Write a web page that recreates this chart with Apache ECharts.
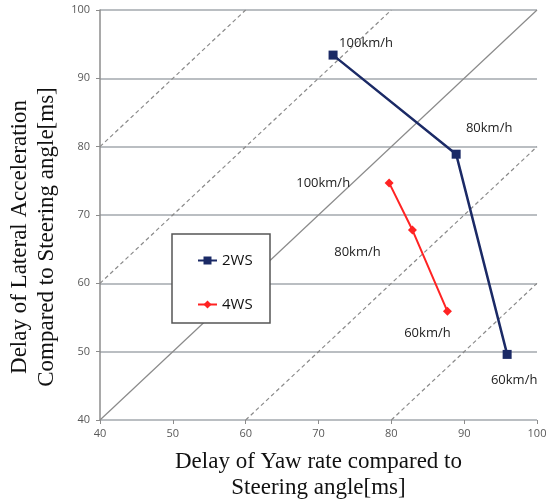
<!DOCTYPE html>
<html>
<head>
<meta charset="utf-8">
<script src="https://cdn.jsdelivr.net/npm/echarts@6/dist/echarts.min.js"></script>
<style>
  html, body { margin: 0; padding: 0; background: #fff; }
  #chart { width: 552px; height: 503px; }
</style>
</head>
<body>
<div id="chart"></div>
<script>
  // data
  var ws2Yaw = [72, 88.9, 95.9];
  var ws2Lat = [93.4, 78.9, 49.6];
  var ws4Yaw = [79.7, 82.9, 87.7];
  var ws4Lat = [74.7, 67.8, 55.9];
  var speedLabels = ['100km/h', '80km/h', '60km/h'];
  var axisTicks = [40, 50, 60, 70, 80, 90, 100];
  // guide lines y = x + offset
  var guideOffsets = [40, 20, 0, -20, -40];

  var lo = axisTicks[0], hi = axisTicks[axisTicks.length - 1];

  // label offsets next to each point
  var ws2Offsets = [[33, -12], [33, -26], [7, 26]];
  var ws4Offsets = [[-66, 0], [-55, 22], [-20, 22]];

  function pts(xs, ys, offs) {
    var out = [];
    for (var i = 0; i < xs.length; i++) {
      out.push({
        value: [xs[i], ys[i]],
        label: { show: true, formatter: speedLabels[i], offset: offs[i], position: 'inside' }
      });
    }
    return out;
  }

  var guideSeries = guideOffsets.map(function (d) {
    var x1 = Math.max(lo, lo - d), x2 = Math.min(hi, hi - d);
    return {
      type: 'line',
      silent: true,
      symbol: 'none',
      data: [[x1, x1 + d], [x2, x2 + d]],
      lineStyle: {
        color: '#8a8a8a',
        width: 1.2,
        type: d === 0 ? 'solid' : [4, 3]
      },
      z: 1
    };
  });

  var chart = echarts.init(document.getElementById('chart'));
  var labelStyle = { color: '#222', fontSize: 13, fontFamily: 'Open Sans' };

  chart.setOption({
    animation: false,
    backgroundColor: '#fff',
    grid: { left: 100, right: 15, top: 10, bottom: 83, outerBoundsMode: 'none', containLabel: false },
    xAxis: {
      type: 'value', min: lo, max: hi, interval: 10,
      axisLine: { show: false },
      axisTick: { show: true, length: 4, lineStyle: { color: '#8c8c8c' } },
      splitLine: { show: false },
      axisLabel: { color: '#595959', fontSize: 11, fontFamily: 'Open Sans', margin: 8 },
      name: 'Delay of Yaw rate compared to\nSteering angle[ms]',
      nameLocation: 'middle', nameGap: 29,
      nameTextStyle: { color: '#111', fontSize: 23, fontFamily: 'Liberation Serif', lineHeight: 26 }
    },
    yAxis: {
      type: 'value', min: lo, max: hi, interval: 10,
      axisLine: { show: true, lineStyle: { color: '#8c8c8c', width: 1.5 } },
      axisTick: { show: true, length: 4, lineStyle: { color: '#8c8c8c' } },
      splitLine: { show: true, lineStyle: { color: '#a3a9ae', width: 1.5 } },
      axisLabel: { color: '#595959', fontSize: 11, fontFamily: 'Open Sans', margin: 10 },
      name: 'Delay of Lateral Acceleration\nCompared to Steering angle[ms]',
      nameLocation: 'middle', nameGap: 32,
      nameTextStyle: {
        color: '#111', fontSize: 23, fontFamily: 'Liberation Serif', lineHeight: 27,
        padding: [0, 44, 0, 0]
      }
    },
    graphic: [{
      type: 'rect',
      shape: { x: 172, y: 234, width: 98, height: 89 },
      style: { fill: '#fff', stroke: '#555', lineWidth: 1.5 },
      z: 10
    }],
    legend: {
      orient: 'vertical',
      left: 192, top: 248,
      itemGap: 29, itemWidth: 19, itemHeight: 10,
      textStyle: { color: '#111', fontSize: 15, fontFamily: 'Open Sans' },
      data: ['2WS', '4WS'],
      z: 20
    },
    series: guideSeries.concat([{
      name: '2WS',
      type: 'line',
      data: pts(ws2Yaw, ws2Lat, ws2Offsets),
      symbol: 'rect', symbolSize: 9,
      itemStyle: { color: '#1b2a66' },
      lineStyle: { color: '#1b2a66', width: 2.5 },
      label: labelStyle,
      z: 5
    }, {
      name: '4WS',
      type: 'line',
      data: pts(ws4Yaw, ws4Lat, ws4Offsets),
      symbol: 'diamond', symbolSize: 9,
      itemStyle: { color: '#ff2323' },
      lineStyle: { color: '#ff2323', width: 2 },
      label: labelStyle,
      z: 5
    }])
  });
</script>
</body>
</html>
